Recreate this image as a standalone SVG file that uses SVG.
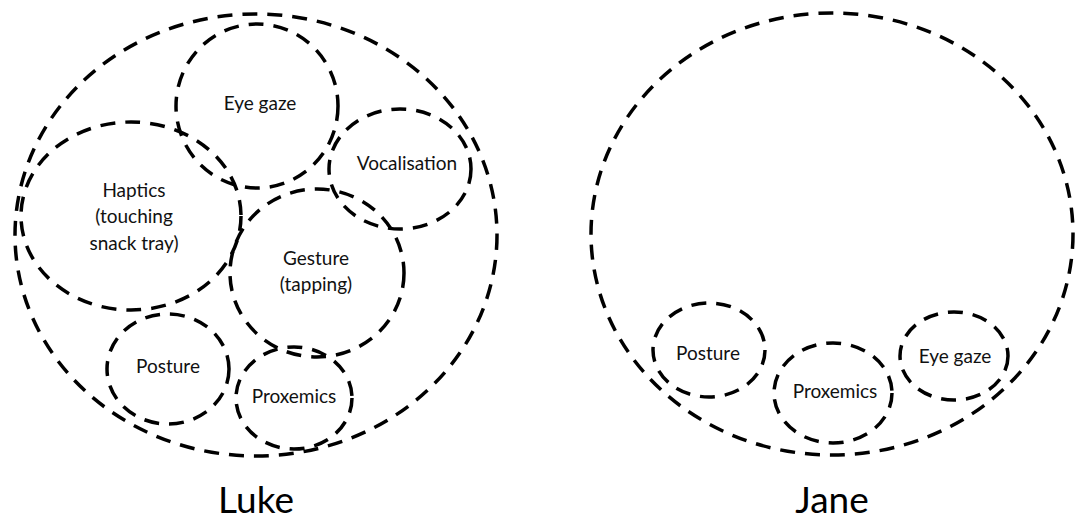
<svg xmlns="http://www.w3.org/2000/svg" width="1077" height="521" viewBox="0 0 1077 521">
  <style>
    .ring { fill: none; stroke: #000; stroke-width: 3.5; stroke-dasharray: 15 10; }
    .lbl { font-family: Lato, "Liberation Sans", sans-serif; font-size: 19px; fill: #111; text-anchor: middle; }
    .name { font-family: Lato, "Liberation Sans", sans-serif; font-size: 37px; fill: #000; text-anchor: middle; }
  </style>
  <rect width="1077" height="521" fill="#fff"/>

  <!-- Luke -->
  <g id="luke">
    <ellipse class="ring" cx="256" cy="235" rx="241" ry="221"/>
    <text class="name" x="256" y="513">Luke</text>
  </g>
  <g id="luke-eye-gaze">
    <ellipse class="ring" cx="257" cy="106" rx="81" ry="82"/>
    <text class="lbl" x="260" y="110">Eye gaze</text>
  </g>
  <g id="luke-vocalisation">
    <ellipse class="ring" cx="400" cy="169" rx="71" ry="60"/>
    <text class="lbl" x="407" y="170">Vocalisation</text>
  </g>
  <g id="luke-haptics">
    <ellipse class="ring" cx="131" cy="216" rx="110" ry="94"/>
    <text class="lbl" x="134" y="197">Haptics</text>
    <text class="lbl" x="134" y="223">(touching</text>
    <text class="lbl" x="134" y="250">snack tray)</text>
  </g>
  <g id="luke-gesture">
    <ellipse class="ring" cx="317" cy="273" rx="87" ry="84"/>
    <text class="lbl" x="316" y="265">Gesture</text>
    <text class="lbl" x="316" y="291">(tapping)</text>
  </g>
  <g id="luke-posture">
    <ellipse class="ring" cx="168" cy="369" rx="61" ry="55"/>
    <text class="lbl" x="168" y="373">Posture</text>
  </g>
  <g id="luke-proxemics">
    <ellipse class="ring" cx="294" cy="398" rx="58" ry="51"/>
    <text class="lbl" x="294" y="403">Proxemics</text>
  </g>

  <!-- Jane -->
  <g id="jane">
    <ellipse class="ring" cx="832" cy="234" rx="241" ry="221"/>
    <text class="name" x="832" y="513">Jane</text>
  </g>
  <g id="jane-posture">
    <ellipse class="ring" cx="709" cy="350" rx="56" ry="47"/>
    <text class="lbl" x="708" y="360">Posture</text>
  </g>
  <g id="jane-proxemics">
    <ellipse class="ring" cx="833" cy="393" rx="59" ry="50"/>
    <text class="lbl" x="835" y="398">Proxemics</text>
  </g>
  <g id="jane-eye-gaze">
    <ellipse class="ring" cx="954" cy="356" rx="54" ry="44"/>
    <text class="lbl" x="955" y="363">Eye gaze</text>
  </g>

  <g id="connectors"/>
</svg>
